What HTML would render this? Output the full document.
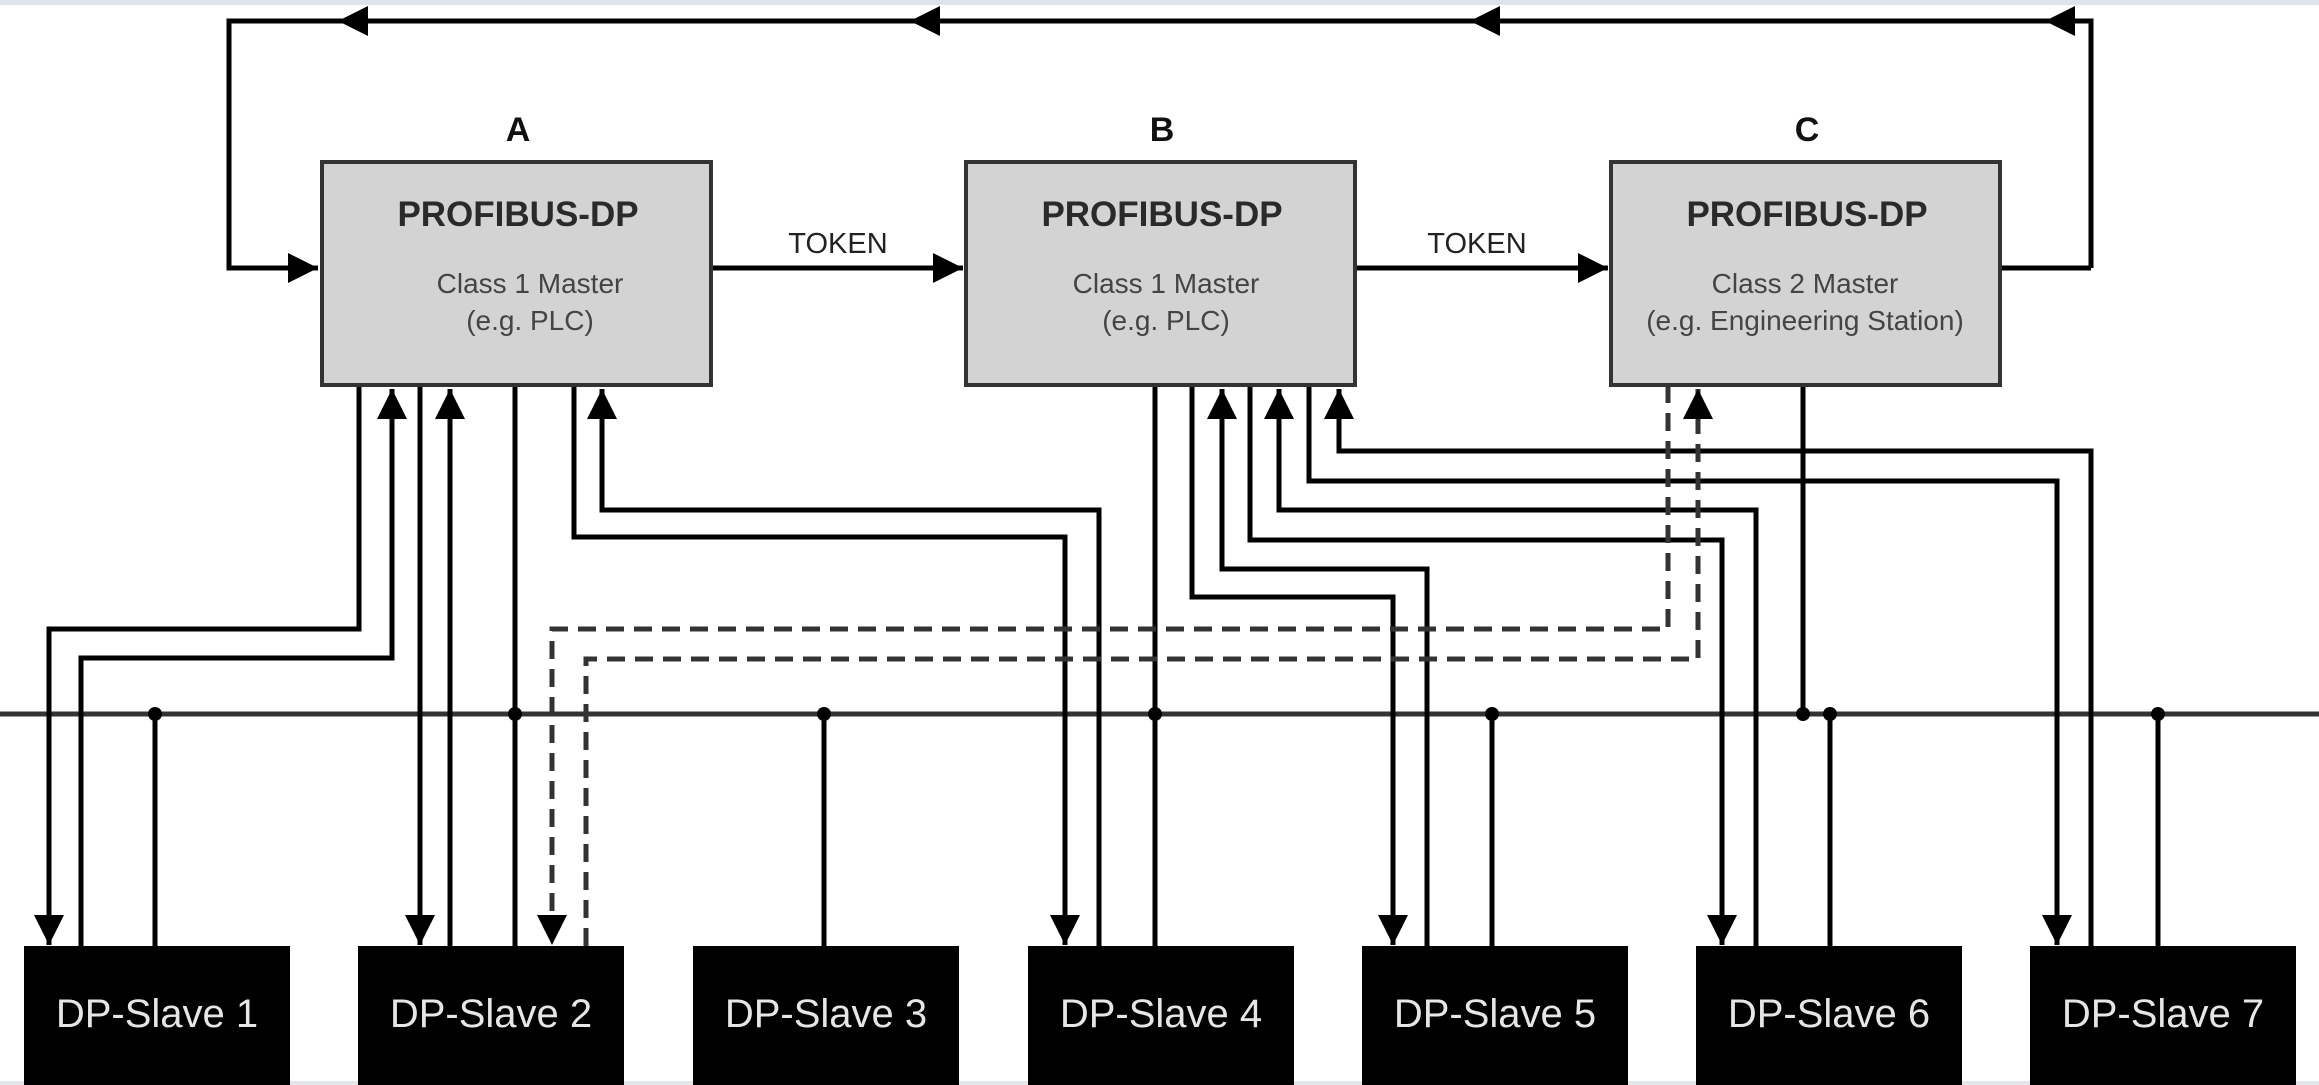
<!DOCTYPE html>
<html><head><meta charset="utf-8"><style>
html,body{margin:0;padding:0;background:#fff;}
svg{display:block;}
text{font-family:"Liberation Sans",Arial,sans-serif;}
</style></head><body>
<svg width="2319" height="1085" viewBox="0 0 2319 1085" xmlns="http://www.w3.org/2000/svg">
<defs>
<marker id="ar" markerUnits="userSpaceOnUse" markerWidth="32" markerHeight="32" refX="30" refY="15" orient="auto">
<path d="M0,0 L30,15 L0,30 Z" fill="#000"/>
</marker>
</defs>
<rect x="0" y="0" width="2319" height="5" fill="#dfe3ea"/>
<rect x="0" y="1081" width="2319" height="4" fill="#e4e6ea"/>
<g stroke="#000" stroke-width="5" fill="none">
<path d="M2091,268 L2091,21 L229,21 L229,268 L318,268" marker-end="url(#ar)"/>
<path d="M2000,268 L2091,268"/>
<line x1="2091" y1="21" x2="2045" y2="21" marker-end="url(#ar)"/>
<line x1="1500" y1="21" x2="1470" y2="21" marker-end="url(#ar)"/>
<line x1="940" y1="21" x2="910" y2="21" marker-end="url(#ar)"/>
<line x1="370" y1="21" x2="338" y2="21" marker-end="url(#ar)"/>
<path d="M711,268 L963,268" marker-end="url(#ar)"/>
<path d="M1355,268 L1608,268" marker-end="url(#ar)"/>
</g>
<line x1="0" y1="714" x2="2319" y2="714" stroke="#333" stroke-width="5"/>
<g stroke="#000" stroke-width="5" fill="none">
<path d="M359,385 L359,629 L49,629 L49,945" marker-end="url(#ar)"/>
<path d="M81,946 L81,658 L392,658 L392,389" marker-end="url(#ar)"/>
<path d="M420,385 L420,945" marker-end="url(#ar)"/>
<path d="M450,946 L450,389" marker-end="url(#ar)"/>
<path d="M515,385 L515,946"/>
<path d="M574,385 L574,537 L1065,537 L1065,945" marker-end="url(#ar)"/>
<path d="M1099,946 L1099,510 L602,510 L602,389" marker-end="url(#ar)"/>
<path d="M155,714 L155,946"/>
<path d="M824,714 L824,946"/>
<path d="M1492,714 L1492,946"/>
<path d="M1830,714 L1830,946"/>
<path d="M2158,714 L2158,946"/>
<path d="M1155,385 L1155,946"/>
<path d="M1192,385 L1192,597 L1393,597 L1393,945" marker-end="url(#ar)"/>
<path d="M1427,946 L1427,569 L1222,569 L1222,389" marker-end="url(#ar)"/>
<path d="M1250,385 L1250,540 L1722,540 L1722,945" marker-end="url(#ar)"/>
<path d="M1756,946 L1756,510 L1279,510 L1279,389" marker-end="url(#ar)"/>
<path d="M1309,385 L1309,481 L2057,481 L2057,945" marker-end="url(#ar)"/>
<path d="M2091,946 L2091,451 L1339,451 L1339,389" marker-end="url(#ar)"/>
<path d="M1803,385 L1803,714"/>
</g>
<g stroke="#333" stroke-width="5" fill="none" stroke-dasharray="18,10">
<path d="M1668,385 L1668,629 L552,629 L552,945" marker-end="url(#ar)"/>
<path d="M586,946 L586,659 L1698,659 L1698,389" marker-end="url(#ar)"/>
</g>
<g fill="#000">
<circle cx="155" cy="714" r="7"/><circle cx="515" cy="714" r="7"/><circle cx="824" cy="714" r="7"/>
<circle cx="1155" cy="714" r="7"/><circle cx="1492" cy="714" r="7"/><circle cx="1803" cy="714" r="7"/>
<circle cx="1830" cy="714" r="7"/><circle cx="2158" cy="714" r="7"/>
</g>
<g fill="#d3d3d3" stroke="#333" stroke-width="4">
<rect x="322" y="162" width="389" height="223"/>
<rect x="966" y="162" width="389" height="223"/>
<rect x="1611" y="162" width="389" height="223"/>
</g>
<g font-weight="bold" font-size="34" fill="#111" text-anchor="middle">
<text x="518" y="141">A</text><text x="1162" y="141">B</text><text x="1807" y="141">C</text>
</g>
<g font-size="35" font-weight="bold" fill="#2a2a2a" text-anchor="middle">
<text x="518" y="226">PROFIBUS-DP</text>
<text x="1162" y="226">PROFIBUS-DP</text>
<text x="1807" y="226">PROFIBUS-DP</text>
</g>
<g font-size="28" fill="#444" text-anchor="middle">
<text x="530" y="293">Class 1 Master</text><text x="530" y="330">(e.g. PLC)</text>
<text x="1166" y="293">Class 1 Master</text><text x="1166" y="330">(e.g. PLC)</text>
<text x="1805" y="293">Class 2 Master</text><text x="1805" y="330">(e.g. Engineering Station)</text>
</g>
<g font-size="29" fill="#222" text-anchor="middle">
<text x="838" y="253">TOKEN</text><text x="1477" y="253">TOKEN</text>
</g>
<g fill="#000">
<rect x="24" y="946" width="266" height="139"/>
<rect x="358" y="946" width="266" height="139"/>
<rect x="693" y="946" width="266" height="139"/>
<rect x="1028" y="946" width="266" height="139"/>
<rect x="1362" y="946" width="266" height="139"/>
<rect x="1696" y="946" width="266" height="139"/>
<rect x="2030" y="946" width="266" height="139"/>
</g>
<g font-size="40" fill="#e6e6e6" text-anchor="middle">
<text x="157" y="1027">DP-Slave 1</text>
<text x="491" y="1027">DP-Slave 2</text>
<text x="826" y="1027">DP-Slave 3</text>
<text x="1161" y="1027">DP-Slave 4</text>
<text x="1495" y="1027">DP-Slave 5</text>
<text x="1829" y="1027">DP-Slave 6</text>
<text x="2163" y="1027">DP-Slave 7</text>
</g>
</svg>
</body></html>
